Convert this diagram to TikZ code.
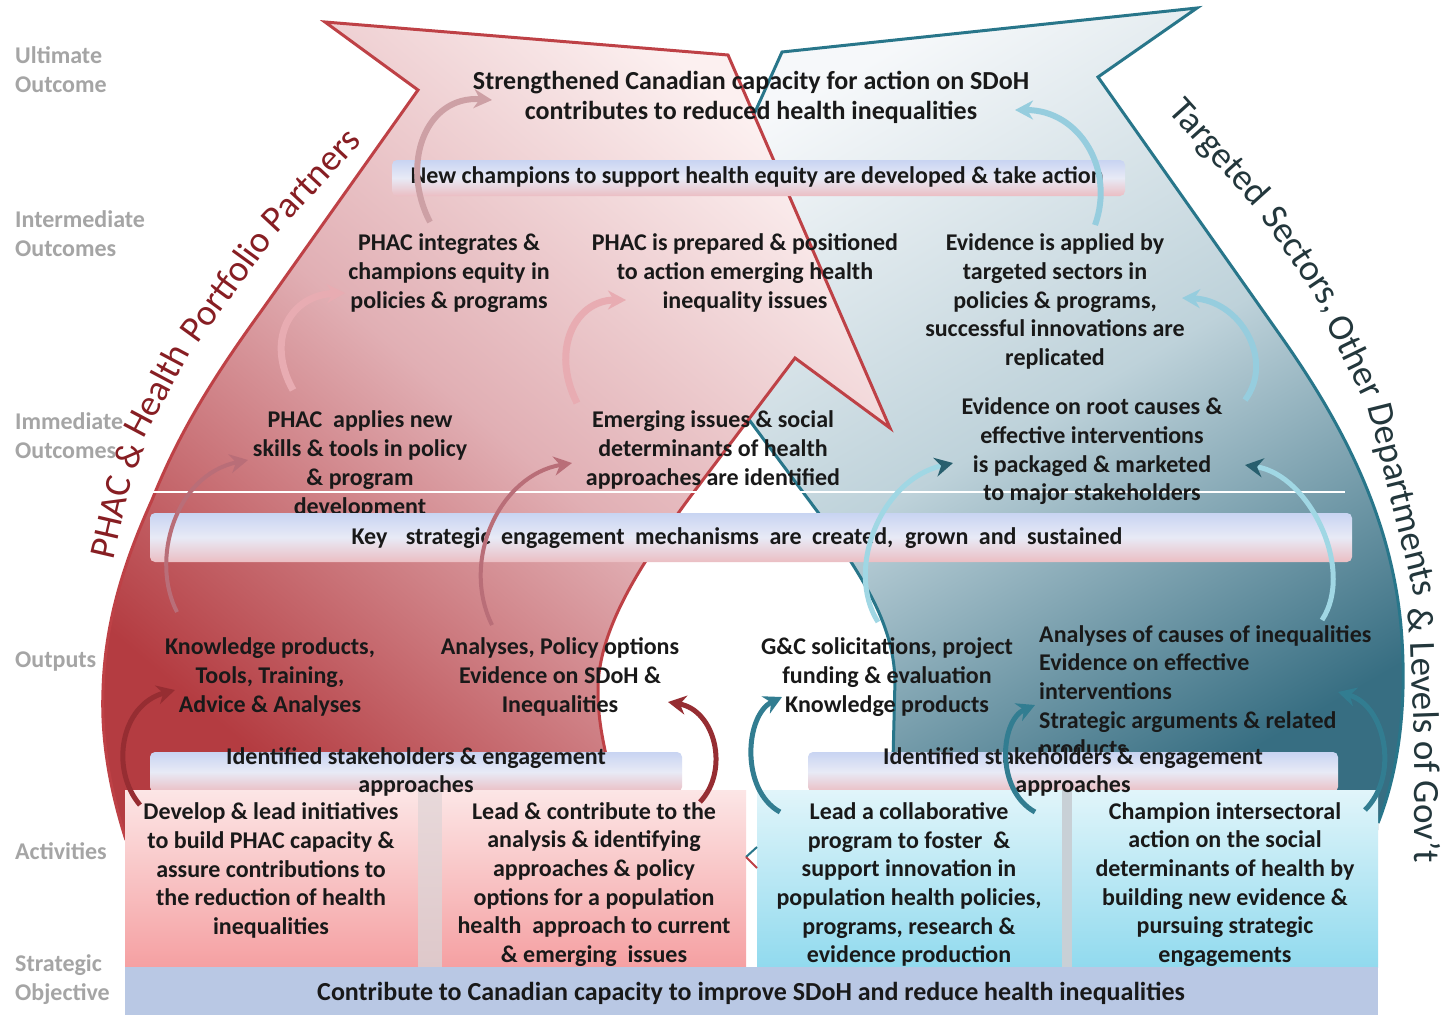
\documentclass[tikz,border=0pt]{standalone}
\usepackage{fontspec}
\setmainfont{Carlito}
\usetikzlibrary{arrows.meta}
\definecolor{txtc}{RGB}{25,25,25}
\definecolor{lblc}{RGB}{165,165,165}
\definecolor{redEdge}{RGB}{190,65,70}
\definecolor{redDark}{RGB}{180,60,65}
\definecolor{redMid}{RGB}{225,175,180}
\definecolor{redLight}{RGB}{252,240,240}
\definecolor{tealEdge}{RGB}{40,118,138}
\definecolor{tealDark}{RGB}{55,110,130}
\definecolor{tealMid}{RGB}{190,210,218}
\definecolor{tealLight}{RGB}{246,248,250}
\definecolor{barTop}{RGB}{200,212,242}
\definecolor{barMid}{RGB}{232,234,246}
\definecolor{barBot}{RGB}{235,190,195}
\definecolor{actRtop}{RGB}{252,230,230}
\definecolor{actRbot}{RGB}{245,160,162}
\definecolor{actBtop}{RGB}{225,245,250}
\definecolor{actBbot}{RGB}{145,218,238}
\definecolor{stratc}{RGB}{185,200,228}
\definecolor{gapR}{RGB}{222,200,202}
\definecolor{gapB}{RGB}{200,208,214}
\definecolor{phacText}{RGB}{135,30,35}
\definecolor{tgtText}{RGB}{35,55,60}
\definecolor{arrA}{RGB}{205,160,165}
\definecolor{arrB}{RGB}{232,172,178}
\definecolor{arrC}{RGB}{185,110,120}
\definecolor{arrD}{RGB}{150,45,50}
\definecolor{arrE}{RGB}{150,205,222}
\definecolor{arrF}{RGB}{160,215,228}
\definecolor{arrFh}{RGB}{40,95,110}
\definecolor{arrG}{RGB}{50,125,145}
\begin{document}
\begin{tikzpicture}[x=1pt,y=-1pt,
 txt/.style={font=\fontsize{24}{28.7}\selectfont\bfseries, align=center, inner sep=0pt, text=txtc},
 bigtxt/.style={txt, font=\fontsize{26}{30}\selectfont\bfseries},
 lbl/.style={font=\fontsize{24}{29}\selectfont\bfseries, align=left, inner sep=0pt, text=lblc, anchor=west},
 sidel/.style={font=\fontsize{37}{37}\selectfont, inner sep=0pt, text=phacText},
 sider/.style={font=\fontsize{37}{37}\selectfont, inner sep=0pt, text=tgtText},
 barbox/.style={rounded corners=5pt, top color=barTop, bottom color=barBot, middle color=barMid},
 actR/.style={top color=actRtop, bottom color=actRbot},
 actB/.style={top color=actBtop, bottom color=actBbot},
 carrow/.style={-{Stealth[length=18pt,width=19pt]}, line width=#1},
 carrow/.default=6pt,
]
\useasboundingbox (0,0) rectangle (1453,1015);
\fill[white] (0,0) rectangle (1453,1015);

% ---------- teal shape ----------
\shade[top color=tealLight, bottom color=tealDark, middle color=tealMid, shading angle=30]
 (1378,823) .. controls (1395,780) and (1407,720) .. (1402,640) .. controls (1395,520) and (1340,420) .. (1280,335)
 -- (1098,77) -- (1197,8) -- (782,52) -- (667,308) -- (753,425) -- (820,515)
 .. controls (860,575) and (893,620) .. (895,680) -- (893,760) -- (893,830) -- (1378,830) -- cycle;
\draw[tealEdge, line width=3pt]
 (1378,823) .. controls (1395,780) and (1407,720) .. (1402,640) .. controls (1395,520) and (1340,420) .. (1280,335)
 -- (1098,77) -- (1197,8) -- (782,52) -- (667,308) -- (753,425) -- (820,515)
 .. controls (860,575) and (893,620) .. (895,680) -- (893,760);

% ---------- red shape ----------
\shade[top color=redLight, bottom color=redDark, middle color=redMid, shading angle=-40]
 (126,840) .. controls (110,790) and (101,740) .. (103,690) .. controls (105,620) and (125,560) .. (152,500)
 .. controls (180,430) and (215,375) .. (262,310) -- (418,90) -- (325,22) -- (728,55) -- (890,428) -- (795,358)
 -- (690,497) .. controls (640,565) and (598,630) .. (598,690) .. controls (598,720) and (603,740) .. (607,760)
 -- (607,840) -- cycle;
\draw[redEdge, line width=3pt]
 (126,840) .. controls (110,790) and (101,740) .. (103,690) .. controls (105,620) and (125,560) .. (152,500)
 .. controls (180,430) and (215,375) .. (262,310) -- (418,90) -- (325,22) -- (728,55) -- (890,428) -- (795,358)
 -- (690,497) .. controls (640,565) and (598,630) .. (598,690) .. controls (598,720) and (603,740) .. (607,760);

\draw[white, line width=1.2pt] (150,492) -- (1345,492);

% ---------- rotated side labels ----------
\node[sidel, rotate=77] (sl1) at (111,517) {PHAC};
\node[sidel, rotate=68] (sl2) at (129,455) {\&};
\node[sidel, rotate=62] (sl3) at (156,390) {Health};
\node[sidel, rotate=54] (sl4) at (225,285) {Portfolio};
\node[sidel, rotate=47] (sl5) at (311,180) {Partners};

\node[sider, rotate=-48] (sr1) at (1218,153) {Targeted};
\node[sider, rotate=-56] (sr2) at (1302,260) {Sectors,};
\node[sider, rotate=-64] (sr3) at (1356,356) {Other};
\node[sider, rotate=-76] (sr4) at (1400,500) {Departments};
\node[sider, rotate=-86] (sr5) at (1421,620) {\&};
\node[sider, rotate=-88] (sr6) at (1425,688) {Levels};
\node[sider, rotate=-89] (sr7) at (1427,757) {of};
\node[sider, rotate=-90] (sr8) at (1427,822) {Gov't};

% ---------- left row labels ----------
\node[lbl] (lU) at (15,69.5) {Ultimate\\Outcome};
\node[lbl] (lI) at (15,233.5) {Intermediate\\Outcomes};
\node[lbl] (lM) at (15,435.5) {Immediate\\Outcomes};
\node[lbl] (lO) at (15,662) {Outputs};
\node[lbl] (lA) at (15,851) {Activities};
\node[lbl] (lS) at (15,979.5) {Strategic\\Objective};

% ---------- outcome / output texts ----------
\node[bigtxt] (ult) at (751,97) {Strengthened Canadian capacity for action on SDoH\\contributes to reduced health inequalities};
\node[txt] (int1) at (449,273) {PHAC integrates \&\\champions equity in\\policies \& programs};
\node[txt] (int2) at (745,273) {PHAC is prepared \& positioned\\to action emerging health\\inequality issues};
\node[txt] (int3) at (1055,301.5) {Evidence is applied by\\targeted sectors in\\policies \& programs,\\successful innovations are\\replicated};
\node[txt] (imm1) at (360,464.5) {PHAC\ \ applies new\\skills \& tools in policy\\\& program\\development};
\node[txt] (imm2) at (713,450) {Emerging issues \& social\\determinants of health\\approaches are identified};
\node[txt] (imm3) at (1092,451.5) {Evidence on root causes \&\\effective interventions\\is packaged \& marketed\\to major stakeholders};
\node[txt] (out1) at (270,677) {Knowledge products,\\Tools, Training,\\Advice \& Analyses};
\node[txt] (out2) at (560,677) {Analyses, Policy options\\Evidence on SDoH \&\\Inequalities};
\node[txt] (out3) at (887,677) {G\&C solicitations, project\\funding \& evaluation\\Knowledge products};
\node[txt, align=left, anchor=west] (out4) at (1039,693) {Analyses of causes of inequalities\\Evidence on effective\\interventions\\Strategic arguments \& related\\products};

% ---------- bars ----------
\shade[barbox] (392,160) rectangle (1125,196);
\node[txt] (champ) at (757,177) {New champions to support health equity are developed \& take action};
\shade[barbox] (150,513) rectangle (1352,562);
\node[txt] (key) at (737,538) {\makebox[771pt][s]{Key\hspace{8pt} strategic engagement mechanisms are created, grown and sustained}};
\shade[barbox] (150,752) rectangle (682,792);
\shade[barbox] (808,752) rectangle (1338,792);

% ---------- activities ----------
\shade[actR] (125,790) rectangle (418,967);
\shade[top color=gapR!70!white, bottom color=gapR] (418,790) rectangle (442,967);
\shade[actR] (442,790) rectangle (746,967);
\shade[actB] (757,790) rectangle (1062,967);
\fill[gapB] (1062,790) rectangle (1072,967);
\shade[actB] (1072,790) rectangle (1378,967);
\draw[tealEdge, line width=2pt] (757,847) -- (746,857);
\draw[redEdge, line width=2pt] (746,857) -- (757,868);
\fill[stratc] (125,967) rectangle (1378,1015);

\node[txt] (idl) at (416,772) {Identified stakeholders \& engagement\\approaches};
\node[txt] (idr) at (1073,772) {Identified stakeholders \& engagement\\approaches};

\node[txt] (act1) at (271,870.5) {Develop \& lead initiatives\\to build PHAC capacity \&\\assure contributions to\\the reduction of health\\inequalities};
\node[txt] (act2) at (594,884.5) {Lead \& contribute to the\\analysis \& identifying\\approaches \& policy\\options for a population\\health\ \ approach to current\\\& emerging\ \ issues};
\node[txt] (act3) at (909,884.5) {Lead a collaborative\\program to foster\ \ \&\\support innovation in\\population health policies,\\programs, research \&\\evidence production};
\node[txt] (act4) at (1225,884.5) {Champion intersectoral\\action on the social\\determinants of health by\\building new evidence \&\\pursuing strategic\\engagements};
\node[bigtxt] (strat) at (751,993) {Contribute to Canadian capacity to improve SDoH and reduce health inequalities};

% ---------- curved arrows ----------
\coordinate (r1s) at (430,222); \coordinate (r1e) at (492,100);
\coordinate (r2s) at (293,390); \coordinate (r2e) at (345,293);
\coordinate (r3s) at (577,403); \coordinate (r3e) at (626,300);
\coordinate (r4s) at (177,612); \coordinate (r4e) at (248,460);
\coordinate (r5s) at (492,625); \coordinate (r5e) at (572,463);
\coordinate (r6s) at (140,805); \coordinate (r6e) at (175,690);
\coordinate (r7s) at (700,802); \coordinate (r7e) at (668,702);
\coordinate (t1s) at (1095,225); \coordinate (t1e) at (1015,110);
\coordinate (t2s) at (1245,400); \coordinate (t2e) at (1182,298);
\coordinate (t3s) at (878,622); \coordinate (t3e) at (953,463);
\coordinate (t4s) at (1322,620); \coordinate (t4e) at (1245,465);
\coordinate (t5s) at (780,812); \coordinate (t5e) at (782,697);
\coordinate (t6s) at (1035,812); \coordinate (t6e) at (1035,705);
\coordinate (t7s) at (1365,810); \coordinate (t7e) at (1338,692);

\draw[carrow=6pt, draw=arrA] (r1s) .. controls (400,165) and (425,95) .. (r1e);
\draw[carrow=7pt, draw=arrB] (r2s) .. controls (265,340) and (290,295) .. (r2e);
\draw[carrow=7pt, draw=arrB] (r3s) .. controls (550,350) and (575,300) .. (r3e);
\draw[carrow=4pt, draw=arrC] (r4s) .. controls (150,560) and (175,475) .. (r4e);
\draw[carrow=4pt, draw=arrC] (r5s) .. controls (460,560) and (500,475) .. (r5e);
\draw[carrow=5pt, draw=arrD] (r6s) .. controls (110,770) and (120,705) .. (r6e);
\draw[carrow=5pt, draw=arrD] (r7s) .. controls (730,770) and (715,710) .. (r7e);
\draw[carrow=6pt, draw=arrE] (t1s) .. controls (1115,170) and (1080,110) .. (t1e);
\draw[carrow=6pt, draw=arrE] (t2s) .. controls (1275,360) and (1240,300) .. (t2e);
\draw[-{Stealth[length=18pt,width=19pt,color=arrFh]}, line width=5pt, draw=arrF] (t3s) .. controls (845,570) and (880,480) .. (t3e);
\draw[-{Stealth[length=18pt,width=19pt,color=arrFh]}, line width=5pt, draw=arrF] (t4s) .. controls (1355,570) and (1310,475) .. (t4e);
\draw[carrow=5pt, draw=arrG] (t5s) .. controls (740,790) and (745,715) .. (t5e);
\draw[carrow=5pt, draw=arrG] (t6s) .. controls (995,790) and (1000,720) .. (t6e);
\draw[carrow=5pt, draw=arrG] (t7s) .. controls (1400,775) and (1385,705) .. (t7e);
\end{tikzpicture}
\end{document}
